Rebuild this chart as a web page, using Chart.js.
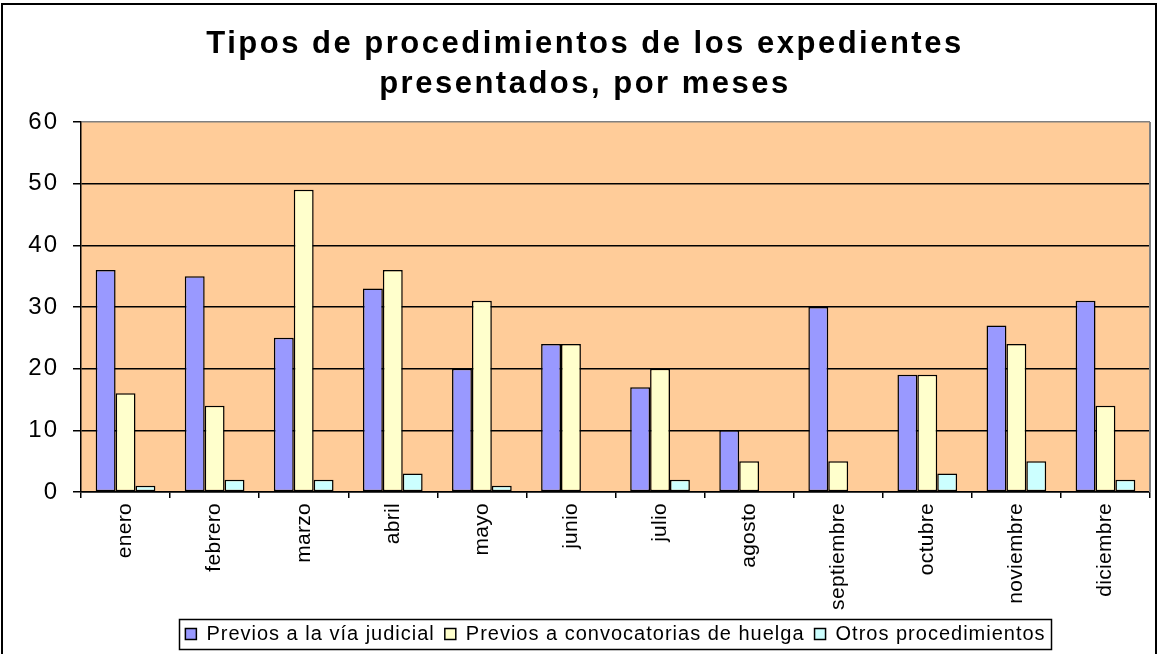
<!DOCTYPE html>
<html><head><meta charset="utf-8">
<script src="https://cdn.jsdelivr.net/npm/chart.js@4.4.0/dist/chart.umd.min.js"></script>
<style>html,body{margin:0;padding:0;background:#fff;}#wrap{width:1158px;height:654px;position:relative;}canvas{display:block;}</style>
</head><body><div id="wrap"><canvas id="c" width="1158" height="654"></canvas></div>
<script>
const months = ['enero','febrero','marzo','abril','mayo','junio','julio','agosto','septiembre','octubre','noviembre','diciembre'];
const seriesNames = ['Previos a la vía judicial','Previos a convocatorias de huelga','Otros procedimientos'];
const judicial = [36,35,25,33,20,24,17,10,30,19,27,31];
const huelga = [16,14,49,36,31,24,20,5,5,19,24,14];
const otros = [1,2,2,3,1,0,2,0,0,3,5,2];
const yTicks = [0,10,20,30,40,50,60];
const titleLines = ['Tipos de procedimientos de los expedientes','presentados, por meses'];
const seriesColors = ['#9999FF','#FFFFCC','#CCFFFF'];

const FONT = "'Liberation Sans', Arial, sans-serif";

function withLS(obj, method, ls){
  const orig = obj[method];
  obj[method] = function(...a){
    const ctx = this.ctx; const prev = ctx.letterSpacing;
    ctx.letterSpacing = ls;
    try { return orig.apply(this, a); } finally { ctx.letterSpacing = prev; }
  };
}

const lsPlugin = {
  id: 'ls',
  afterInit(chart){
    withLS(chart.titleBlock, 'draw', '2.5px');
    withLS(chart.legend, 'fit', '1px');
    withLS(chart.legend, 'draw', '1px');
  },
  beforeLayout(chart){
    for (const [id, ls] of [['x','0.3px'],['y','2px']]) {
      const s = chart.scales[id];
      if (s && !s.__ls) { s.__ls = true; withLS(s, 'drawLabels', ls); }
    }
  }
};

const decoPlugin = {
  id: 'deco',
  beforeDraw(chart){
    const {ctx, chartArea:a} = chart;
    ctx.save();
    ctx.fillStyle = '#FFCC99';
    ctx.fillRect(a.left, a.top, a.right - a.left, a.bottom - a.top);
    ctx.restore();
  },
  afterDraw(chart){
    const {ctx, chartArea:a} = chart;
    ctx.save();
    ctx.strokeStyle = '#808080'; ctx.lineWidth = 2;
    ctx.beginPath(); ctx.moveTo(a.right, a.top); ctx.lineTo(a.right, a.bottom); ctx.stroke();
    const hb = chart.legend.legendHitBoxes;
    if (hb && hb.length) {
      const l = Math.min(...hb.map(h=>h.left)) - 6;
      const r = Math.max(...hb.map(h=>h.left + h.width)) + 6;
      const t = Math.min(...hb.map(h=>h.top)) - 5;
      const b = Math.max(...hb.map(h=>h.top + h.height)) + 5;
      ctx.strokeStyle = '#000'; ctx.lineWidth = 1.5;
      ctx.strokeRect(Math.round(l)+0.5, Math.round(t)+0.5, Math.round(r-l), Math.round(b-t));
    }
    ctx.strokeStyle = '#000'; ctx.lineWidth = 2;
    ctx.strokeRect(2, 4, 1154, 652);
    ctx.restore();
  }
};

new Chart(document.getElementById('c'), {
  type: 'bar',
  data: {
    labels: months,
    datasets: [
      {label: seriesNames[0], data: judicial, backgroundColor: seriesColors[0]},
      {label: seriesNames[1], data: huelga, backgroundColor: seriesColors[1]},
      {label: seriesNames[2], data: otros, backgroundColor: seriesColors[2]}
    ].map(d => Object.assign(d, {borderColor:'#000', borderWidth:1.5, borderSkipped:false, categoryPercentage:0.67, barPercentage:1}))
  },
  options: {
    responsive: false,
    animation: false,
    devicePixelRatio: 1,
    layout: {padding: {left: 20, right: 8, top: 0, bottom: 0}},
    plugins: {
      title: {display: true, text: titleLines, color: '#000',
        font: {family: FONT, size: 31, weight: 'bold', lineHeight: '40px'},
        padding: {top: 24, bottom: 18}},
      legend: {display: true, position: 'bottom', fullSize: false,
        labels: {color: '#000', font: {family: FONT, size: 20}, boxWidth: 11, boxHeight: 11, padding: 10}},
      tooltip: {enabled: false}
    },
    scales: {
      x: {
        grid: {display: true, drawOnChartArea: false, drawTicks: true, tickLength: 6, color: '#000', tickColor: '#000', lineWidth: 1.5, offset: true},
        border: {display: true, color: '#000', width: 1.5},
        ticks: {color: '#000', font: {family: FONT, size: 21}, minRotation: 90, maxRotation: 90, padding: 5, autoSkip: false},
        afterFit(s){ s.height = 122; }
      },
      y: {
        min: 0, max: 60,
        afterBuildTicks(s){ s.ticks = yTicks.map(v => ({value: v})); },
        grid: {color: c => (c.tick && c.tick.value === 60) ? '#808080' : '#000', tickColor: '#000', lineWidth: 1.5, tickLength: 8, drawTicks: true},
        border: {display: true, color: '#000', width: 1.5},
        ticks: {color: '#000', font: {family: FONT, size: 24}, padding: 14},
        afterFit(s){ s.width = 61; }
      }
    }
  },
  plugins: [lsPlugin, decoPlugin]
});
</script>
</body></html>
